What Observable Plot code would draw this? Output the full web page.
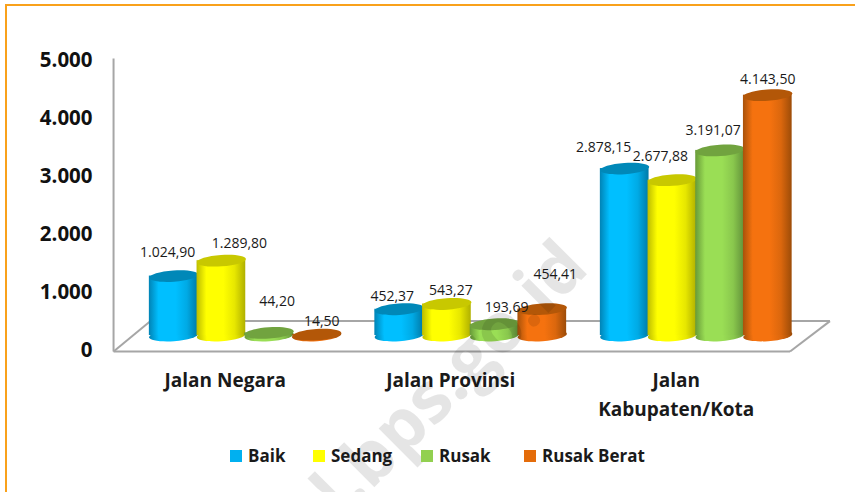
<!DOCTYPE html>
<html>
<head>
<meta charset="utf-8">
<script src="https://cdn.jsdelivr.net/npm/d3@7"></script>
<script src="https://cdn.jsdelivr.net/npm/@observablehq/plot@0.6"></script>
<style>
  html, body { margin: 0; padding: 0; background: #fff; overflow: hidden; }
  #chart { position: relative; width: 855px; height: 492px; overflow: hidden; }
  #chart svg { position: absolute; left: 0; top: 0; background: transparent; }
  #border { position: absolute; left: 5px; top: 4px; right: -4px; bottom: -4px; border: 2px solid #f9a11b; }
  #legend { position: absolute; left: 0; top: 443px; height: 26px; font: 700 17px "Open Sans", sans-serif; color: #1a1a1a; }
  #legend span { position: absolute; white-space: nowrap; line-height: 26px; }
  #legend i { position: absolute; top: 7px; width: 12px; height: 12px; }
</style>
</head>
<body>
<div id="chart"><div id="border"></div></div>
<script>
const categories = ["Jalan Negara", "Jalan Provinsi", "Jalan\nKabupaten/Kota"];
const seriesNames = ["Baik", "Sedang", "Rusak", "Rusak Berat"];
const baik = [1024.90, 452.37, 2878.15];
const sedang = [1289.80, 543.27, 2677.88];
const rusak = [44.20, 193.69, 3191.07];
const rusakBerat = [14.50, 454.41, 4143.50];
const yTicks = [0, 1000, 2000, 3000, 4000, 5000];

const seriesValues = [baik, sedang, rusak, rusakBerat];
const legendColors = ["#00b0f0", "#ffff00", "#92d050", "#e46c0a"];
// edge, bright, far edge, cap
const palettes = [
  ["#0083b5", "#00bfff", "#007aa8", "#0088b8"],
  ["#bcbc00", "#ffff00", "#b0b000", "#c8c800"],
  ["#679a38", "#9ade55", "#62923a", "#71a33f"],
  ["#a8520a", "#f5720f", "#9d4c08", "#b35708"]
];

const barStep = 0.2115, barHalf = 0.108, baseLift = -14;
const rows = seriesNames.flatMap((name, s) => categories.map((category, c) => ({
  category, name, s, c, value: seriesValues[s][c],
  x: c + 0.5 + (s - 1.5) * barStep
})));

const fmt = d3.formatLocale({decimal: ",", thousands: ".", grouping: [3], currency: ["", ""]});
const fmtTick = fmt.format(",.0f"), fmtValue = fmt.format(",.2f");

// hand-placed label offsets, in the order of rows (dx, dy from bar top centre)
const labelOffsets = [
  [-6, -24], [-7, -13], [-21, -21],
  [18, -17], [4, -13], [-12, -24],
  [8, -31], [12, -17], [-7, -20],
  [5, -13], [13, -35], [0, -16]
];

const ellipse = {
  draw(ctx, size) {
    const rx = Math.sqrt(size / Math.PI), ry = rx * 0.23, k = 0.5523;
    ctx.moveTo(-rx, 0);
    ctx.bezierCurveTo(-rx, -ry * k, -rx * k, -ry, 0, -ry);
    ctx.bezierCurveTo(rx * k, -ry, rx, -ry * k, rx, 0);
    ctx.bezierCurveTo(rx, ry * k, rx * k, ry, 0, ry);
    ctx.bezierCurveTo(-rx * k, ry, -rx, ry * k, -rx, 0);
    ctx.closePath();
  }
};

function gradients() {
  const ns = "http://www.w3.org/2000/svg";
  const defs = document.createElementNS(ns, "defs");
  palettes.forEach((p, s) => {
    const g = document.createElementNS(ns, "linearGradient");
    g.setAttribute("id", "cyl" + s);
    [[0, p[0]], [0.2, p[1]], [0.55, p[1]], [0.78, d3.interpolateRgb(p[1], p[2])(0.3)], [1, p[2]]].forEach(([o, col]) => {
      const st = document.createElementNS(ns, "stop");
      st.setAttribute("offset", o);
      st.setAttribute("stop-color", col);
      g.appendChild(st);
    });
    defs.appendChild(g);
  });
  return defs;
}

const fontFam = '"Open Sans", sans-serif';
const axisColor = "#a6a6a6";
const wallX = -0.084, floorFront = -34, floorBack = 490, wallTop = 5017;
const floorBackLeft = 0.08, floorFrontRight = 2.916, floorBackRight = 3.093;
const floorLines = [
  {x1: wallX, y1: floorFront, x2: wallX, y2: wallTop},
  {x1: wallX, y1: floorFront, x2: floorFrontRight, y2: floorFront},
  {x1: wallX, y1: floorFront, x2: floorBackLeft, y2: floorBack},
  {x1: floorBackLeft, y1: floorBack, x2: floorBackRight, y2: floorBack},
  {x1: floorFrontRight, y1: floorFront, x2: floorBackRight, y2: floorBack}
];

const cylinderMarks = seriesNames.flatMap((name, s) => {
  const d = rows.filter(r => r.s === s);
  return [
    Plot.dot(d, {x: "x", y: () => 0, r: 24.6, dy: baseLift, symbol: ellipse, rotate: -4, fill: `url(#cyl${s})`, stroke: "none"}),
    Plot.rect(d, {x1: r => r.x - barHalf, x2: r => r.x + barHalf, y1: () => 0, y2: "value", dy: baseLift, fill: `url(#cyl${s})`}),
    Plot.dot(d, {x: "x", y: "value", r: 24.6, dy: baseLift, symbol: ellipse, rotate: -4, fill: palettes[s][3], stroke: "none"})
  ];
});

const labelMarks = rows.map((r, i) => Plot.text([r], {
  x: "x", y: "value", text: d => fmtValue(d.value),
  dx: labelOffsets[i][0], dy: baseLift + labelOffsets[i][1],
  fontFamily: fontFam, fontSize: 14, fill: "#1a1a1a"
}));

const plot = Plot.plot({
  width: 855, height: 492,
  marginTop: 0, marginRight: 0, marginBottom: 0, marginLeft: 0,
  style: {background: "transparent", overflow: "hidden"},
  x: {domain: [0, 3], range: [132, 808.5], axis: null},
  y: {domain: [0, 5000], range: [349, 59], axis: null},
  marks: [
    () => gradients(),
    Plot.link(floorLines, {x1: "x1", y1: "y1", x2: "x2", y2: "y2", stroke: axisColor, strokeWidth: 2}),
    Plot.axisY({ticks: yTicks, tickSize: 0, tickPadding: 0, anchor: "left", x: wallX, dx: -21, dy: 1, tickFormat: fmtTick,
      fontFamily: fontFam, fontSize: 20.5, fontWeight: 700, fill: "#111", textAnchor: "end", label: null}),
    ...cylinderMarks,
    ...labelMarks,
    Plot.text(categories, {
      x: (d, i) => i + 0.5, y: floorFront, dx: -20, dy: 15, text: d => d, lineAnchor: "top",
      fontFamily: fontFam, fontSize: 19, fontWeight: 700, fill: "#1a1a1a", lineHeight: 1.53
    }),
    Plot.text(["d.bps.go.id"], {
      x: 1.373, y: -655, rotate: -45, text: d => d,
      fontFamily: fontFam, fontSize: 70, fontWeight: 700, fill: "#000", fillOpacity: 0.1
    })
  ]
});
const chart = document.getElementById("chart");
chart.appendChild(plot);

const legend = document.createElement("div");
legend.id = "legend";
const swatchLeft = [230, 313, 421, 524];
seriesNames.forEach((name, s) => {
  const i = document.createElement("i");
  i.style.left = swatchLeft[s] + "px";
  i.style.background = legendColors[s];
  const t = document.createElement("span");
  t.style.left = (swatchLeft[s] + 18) + "px";
  t.textContent = name;
  legend.append(i, t);
});
chart.appendChild(legend);
</script>
</body>
</html>
